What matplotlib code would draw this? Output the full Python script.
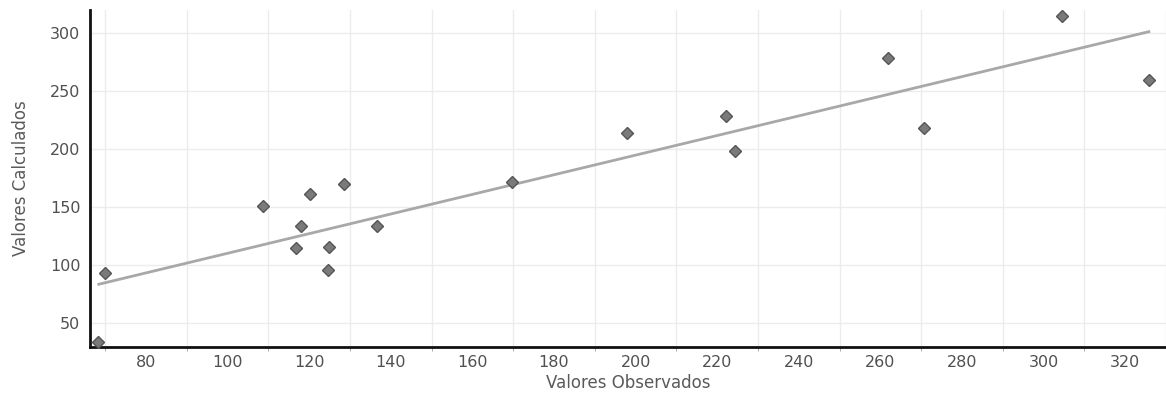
import matplotlib
matplotlib.use("Agg")
import matplotlib.pyplot as plt
import numpy as np

obs = [68.1, 69.9, 108.6, 116.7, 117.9, 120.1, 124.8, 124.5, 128.4, 136.6, 169.8, 197.9, 222.2, 224.4, 261.8, 270.7, 304.4, 325.8]
calc = [34, 93, 151, 115, 134, 161.5, 116, 96, 170, 134, 171.5, 214, 229, 198, 278.5, 218, 315, 260]
trend_x = [68.4, 325.8]
trend_y = [83.5, 301.3]
xticks = [80, 100, 120, 140, 160, 180, 200, 220, 240, 260, 280, 300, 320]
yticks = [50, 100, 150, 200, 250, 300]

plt.rcParams['font.family'] = ['DejaVu Sans']

fig = plt.figure(figsize=(11.66, 4.01), dpi=100)
ax = fig.add_axes([90/1166, 1-347/401, 1-90/1166, (347-10)/401])
ax.set_xlim(66.25, 325.8)
ax.set_ylim(29.4, 320)

# grid
ax.set_xticks(xticks)
ax.set_xticks(np.arange(70, 331, 20), minor=True)
ax.set_yticks(yticks)
ax.grid(True, which='minor', axis='x', color='#ececec', lw=1)
ax.grid(True, which='major', axis='y', color='#ececec', lw=1)
ax.set_axisbelow(True)

ax.plot(trend_x, trend_y, color='#a8a8a8', lw=2, zorder=2)
ax.plot(obs, calc, linestyle='none', marker='D', markersize=6.5,
        markerfacecolor='#7a7a7a', markeredgecolor='#555555', markeredgewidth=1, zorder=3, clip_on=False)

for s in ['top', 'right']:
    ax.spines[s].set_visible(False)
for s in ['left', 'bottom']:
    ax.spines[s].set_linewidth(2)
    ax.spines[s].set_color('#111111')

ax.tick_params(axis='both', which='major', length=0, labelsize=11.5, labelcolor='#505050')
ax.tick_params(axis='y', which='major', pad=7)
ax.tick_params(axis='x', which='major', pad=6)
ax.tick_params(axis='x', which='minor', length=3, color='#999999', direction='out')

ax.set_xlabel('Valores Observados', fontsize=12, color='#5a5a5a', labelpad=3)
ax.set_ylabel('Valores Calculados', fontsize=12, color='#5a5a5a', labelpad=14)

fig.savefig('out.png', dpi=100)
